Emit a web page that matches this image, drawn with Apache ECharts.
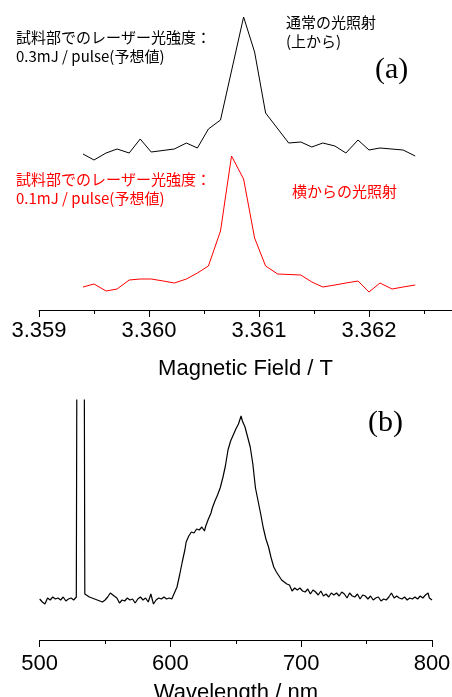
<!DOCTYPE html>
<html>
<head>
<meta charset="utf-8">
<script src="https://cdn.jsdelivr.net/npm/echarts@6/dist/echarts.min.js"></script>
<style>html,body{margin:0;padding:0;background:#fff;}#c{width:452px;height:697px;}</style>
</head>
<body>
<div id="c"></div>
<script>
// (a) ESR spectra: magnetic field (T) and intensity (arb.)
var fieldA = [3.35940,3.35950,3.35961,3.35971,3.35982,3.35992,3.36002,3.36013,3.36023,3.36034,
              3.36044,3.36054,3.36065,3.36075,3.36086,3.36096,3.36106,3.36117,3.36127,3.36138,
              3.36148,3.36158,3.36169,3.36179,3.36190,3.36200,3.36210,3.36221,3.36231,3.36242];
// top (black) trace, null where no vertex is visible
var topTrace = [156,150,157,161,157,171,158,null,161,167,
                162,181,190,null,293,258,197,null,167,168,
                163,167,164,157,170,160,162,null,160,154];
// side (red) trace
var sideTrace = [23,26,19,21,30,31,31,29,27,31,
                 37,44,79,154,131,72,44,36,null,35,
                 28,23,25,27,29,18,27,21,23,25];
var fieldTicks = ['3.359','3.360','3.361','3.362'];

// (b) emission spectrum: wavelength (nm) and intensity (arb.)
var wavelength = [500,502,504,506,508,510,512,514,516,518,520,522,524,526,528,529,533.5,534.5,536,538,
  540,542,544,546,548,550,552,554,555.5,557,559,561,563,565,567,569,571,573,575,577,
  579,581,583,585,586,587,589,591,593,595,597,599,601,603,605,607,609,611,612,614,
  616,618,620,622,624,626,627,629,631,632,634,636,638,640,642,644,646,648,650,652,
  654,655,657,659,661,663,665,667,669,671,673,675,677,679,681,683,685,687,689,691,
  693,695,697,699,701,703,705,707,709,711,713,715,717,719,721,723,725,727,729,731,
  733,735,737,739,741,743,745,747,749,751,753,755,757,759,761,763,765,767,769,771,
  773,775,777,779,781,783,785,787,789,791,793,795,797,798,800];
var emission = [41,38,36,42,40,43,41,42,40,43,39,41,42,40,43,600,600,46,44,43,
  42,41,40,39,38,40,43,47,49,44,42,37,40,39,42,40,41,37,41,43,
  40,42,38,46,47,36,40,42,41,43,41,42,41,47,53,65,78,90,98,104,
  108,107,111,110,113,109,114,121,127,132,139,145,152,162,174,190,199,205,211,216,
  224,219,213,203,193,176,152,139,126,112,101,93,82,73,68,64,60,58,56,55,
  49,52,50,52,49,48,51,46,50,48,45,49,44,46,43,47,45,47,44,48,
  46,42,47,44,43,46,41,45,44,41,44,40,42,43,39,41,40,43,47,42,
  44,42,41,43,40,42,41,43,41,44,42,45,47,42,40];
var waveTicks = ['500','600','700','800'];

function pairs(xs, ys){ var o=[]; for(var i=0;i<xs.length;i++){ if(ys[i]!==null) o.push([xs[i], ys[i]]); } return o; }

var chart = echarts.init(document.getElementById('c'), null, {renderer:'canvas'});
var axisFont = {fontFamily:'Liberation Sans, Arial, sans-serif', fontSize:22, color:'#000'};
var jp = 'Noto Sans CJK JP, sans-serif';

chart.setOption({
  animation:false,
  backgroundColor:'#fff',
  grid:[
    {left:39, top:0, width:440, height:310, outerBoundsMode:'none', containLabel:false},
    {left:39.7, top:400, width:392.3, height:240, outerBoundsMode:'none', containLabel:false}
  ],
  xAxis:[
    {gridIndex:0, type:'value', min:3.359, max:3.363, interval:0.001,
     axisLine:{lineStyle:{color:'#000', width:1}},
     axisTick:{length:7, lineStyle:{color:'#000'}},
     minorTick:{show:true, splitNumber:2, length:4, lineStyle:{color:'#000'}},
     splitLine:{show:false},
     axisLabel:Object.assign({margin:10, showMaxLabel:false, hideOverlap:false,
       formatter:function(v){ var s=v.toFixed(3); return fieldTicks.indexOf(s)>=0?s:''; }}, axisFont),
     name:'Magnetic Field / T', nameLocation:'middle', nameGap:48,
     nameTextStyle:Object.assign({padding:[0,27,0,0]}, axisFont)},
    {gridIndex:1, type:'value', min:500, max:800, interval:100,
     axisLine:{lineStyle:{color:'#000', width:1}},
     axisTick:{length:7, lineStyle:{color:'#000'}},
     minorTick:{show:true, splitNumber:2, length:4, lineStyle:{color:'#000'}},
     splitLine:{show:false},
     axisLabel:Object.assign({margin:13,
       formatter:function(v){ var s=String(Math.round(v)); return waveTicks.indexOf(s)>=0?s:''; }}, axisFont),
     name:'Wavelength / nm', nameLocation:'middle', nameGap:42,
     nameTextStyle:axisFont}
  ],
  yAxis:[
    {gridIndex:0, type:'value', min:0, max:310, show:false},
    {gridIndex:1, type:'value', min:0, max:240, show:false}
  ],
  series:[
    {type:'line', xAxisIndex:0, yAxisIndex:0, data:pairs(fieldA, topTrace), symbol:'none',
     lineStyle:{color:'#000', width:1}, clip:true},
    {type:'line', xAxisIndex:0, yAxisIndex:0, data:pairs(fieldA, sideTrace), symbol:'none',
     lineStyle:{color:'#ff0000', width:1}, clip:true},
    {type:'line', xAxisIndex:1, yAxisIndex:1, data:pairs(wavelength, emission), symbol:'none',
     lineStyle:{color:'#000', width:1.2}, clip:true}
  ],
  graphic:[
    {type:'text', left:16, top:28, style:{text:'試料部でのレーザー光強度：\n0.3mJ / pulse(予想値)', font:'15px '+jp, lineHeight:19, fill:'#000'}},
    {type:'text', left:286, top:13, style:{text:'通常の光照射\n(上から)', font:'15px '+jp, lineHeight:19, fill:'#000'}},
    {type:'text', left:375, top:55, style:{text:'(a)', font:'30px Liberation Serif, Times New Roman, serif', fill:'#000'}},
    {type:'text', left:16, top:170, style:{text:'試料部でのレーザー光強度：\n0.1mJ / pulse(予想値)', font:'15px '+jp, lineHeight:19, fill:'#ff0000'}},
    {type:'text', left:292, top:182, style:{text:'横からの光照射', font:'15px '+jp, lineHeight:19, fill:'#ff0000'}},
    {type:'text', left:368, top:408, style:{text:'(b)', font:'30px Liberation Serif, Times New Roman, serif', fill:'#000'}}
  ]
});
</script>
</body>
</html>
